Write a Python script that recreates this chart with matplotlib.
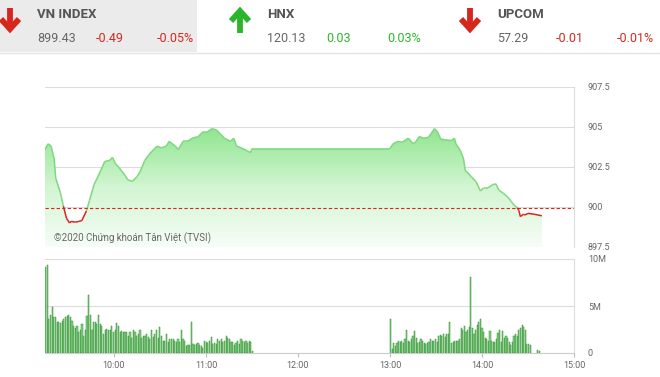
import numpy as np
import matplotlib
matplotlib.use("Agg")
import matplotlib.pyplot as plt
from matplotlib.collections import LineCollection
from matplotlib.colors import LinearSegmentedColormap
from matplotlib.patches import Rectangle

plt.rcParams['font.family'] = ['Roboto', 'DejaVu Sans']

# --- header quotes
idx_names = ["VN INDEX", "HNX", "UPCOM"]
idx_values = ["899.43", "120.13", "57.29"]
idx_changes = ["-0.49", "0.03", "-0.01"]
idx_pcts = ["-0.05%", "0.03%", "-0.01%"]

# --- intraday VN-Index (time, points)
price_times = ["09:15", "09:17", "09:19", "09:21", "09:22", "09:25", "09:27", "09:29",
               "09:31", "09:32", "09:35", "09:37", "09:39", "09:42", "09:44", "09:47",
               "09:50", "09:54", "09:57", "09:59", "10:01", "10:03", "10:07", "10:09",
               "10:12", "10:15", "10:17", "10:20", "10:23", "10:28", "10:31", "10:34",
               "10:36", "10:40", "10:42", "10:45", "10:48", "10:51", "10:55", "10:58",
               "11:01", "11:04", "11:07", "11:09", "11:12", "11:16", "11:18", "11:20",
               "11:23", "11:27", "11:29", "11:30", "13:00", "13:02", "13:05", "13:08",
               "13:12", "13:15", "13:17", "13:19", "13:22", "13:25", "13:28", "13:29",
               "13:31", "13:33", "13:36", "13:40", "13:42", "13:43", "13:46", "13:48",
               "13:49", "13:53", "13:56", "13:59", "14:01", "14:04", "14:07", "14:09",
               "14:11", "14:14", "14:17", "14:19", "14:21", "14:23", "14:24", "14:25",
               "14:27", "14:28", "14:30", "14:34", "14:39"]
price_values = [903.6, 903.95, 903.8, 903.0, 901.8, 900.9, 900.05, 899.3,
                899.0, 899.1, 899.05, 899.1, 899.15, 899.75, 900.4, 901.4,
                902.0, 902.85, 902.9, 903.1, 902.7, 902.5, 902.0, 901.7,
                901.6, 901.9, 902.2, 902.9, 903.3, 903.8, 903.7, 903.8,
                904.1, 903.8, 903.6, 904.1, 904.1, 904.3, 904.4, 904.7,
                904.7, 904.9, 904.8, 904.6, 904.3, 904.1, 904.3, 903.8,
                903.7, 903.5, 903.4, 903.65, 903.65, 903.95, 904.1, 904.05,
                904.3, 903.95, 904.1, 904.4, 904.3, 904.35, 904.75, 904.9,
                904.7, 904.25, 904.2, 904.15, 904.3, 903.95, 903.5, 903.0,
                902.3, 901.9, 901.6, 901.0, 901.2, 901.2, 901.4, 901.45,
                901.05, 900.85, 900.6, 900.35, 900.1, 899.95, 899.8, 899.4,
                899.55, 899.5, 899.6, 899.55, 899.45]
ref_price = 899.92

# --- volume (millions of shares), one bar per minute-ish
vol_am = [9.1, 9.4, 3.6, 4.0, 4.9, 3.8, 3.8, 3.3, 3.3, 3.2, 3.4, 3.6, 3.8, 3.9, 4.0, 3.8,
          3.4, 2.9, 2.7, 2.9, 2.2, 2.4, 3.1, 1.8, 2.5, 3.9, 6.2, 4.0, 2.4, 3.3, 3.3, 3.1,
          4.0, 3.1, 2.9, 2.0, 2.5, 2.6, 2.5, 2.4, 2.9, 2.2, 2.4, 3.2, 2.9, 2.2, 2.3, 2.2,
          2.2, 2.2, 1.8, 2.2, 1.6, 2.4, 2.2, 1.8, 2.0, 2.4, 1.6, 1.8, 1.8, 2.0, 1.7, 1.5,
          2.4, 1.7, 2.0, 2.4, 1.6, 2.8, 1.8, 1.3, 1.3, 2.0, 1.2, 1.5, 1.5, 1.5, 1.3, 1.2,
          1.5, 1.2, 2.4, 1.5, 1.3, 0.7, 0.8, 0.9, 3.3, 1.0, 0.8, 1.0, 1.1, 0.9, 0.7, 0.5,
          1.3, 1.2, 1.1, 1.3, 1.7, 1.0, 1.1, 1.0, 1.5, 1.3, 1.5, 1.2, 1.3, 1.8, 1.6, 1.5,
          1.2, 1.2, 0.9, 1.1, 1.3, 1.0, 1.5, 1.3, 1.2, 1.3, 1.1, 1.3, 1.2, 0.25]
vol_pm = [3.6, 0.4, 1.1, 0.7, 1.1, 1.3, 1.2, 1.3, 1.1, 1.5, 2.4, 1.3, 1.2, 1.5, 1.8, 2.3,
          1.6, 1.1, 1.2, 1.5, 1.3, 1.1, 1.0, 1.1, 1.2, 1.5, 1.3, 1.3, 1.5, 1.2, 1.8, 1.9,
          1.8, 2.0, 1.7, 2.0, 2.0, 3.3, 1.1, 1.2, 1.3, 1.3, 1.3, 1.5, 2.7, 2.5, 2.9, 2.2,
          2.4, 2.8, 8.1, 2.7, 2.0, 2.4, 3.0, 3.3, 3.6, 2.7, 2.2, 1.6, 1.5, 1.3, 2.3, 1.3,
          1.2, 1.2, 1.5, 2.1, 2.4, 1.2, 2.3, 1.6, 1.8, 1.6, 1.2, 0.9, 1.2, 1.8, 2.0, 1.8,
          2.4, 2.7, 3.0, 2.8, 2.5, 1.0, 1.0, 0.9]
vol_late_times = ["14:36", "14:37"]
vol_late = [0.36, 0.25]

x_ticks = ["10:00", "11:00", "12:00", "13:00", "14:00", "15:00"]


def hours(s):
    h, m = s.split(":")
    return int(h) + int(m) / 60.0


t = np.array([hours(s) for s in price_times])
p = np.array(price_values)

W, H = 660, 377
fig = plt.figure(figsize=(W / 100, H / 100), dpi=100, facecolor='white')

grey_txt = '#666666'
grid_c = '#dcdcdc'
green_line = '#7fd87f'
red = '#d7261e'
up_green = '#2bb52b'

# ---------------- header
hx = fig.add_axes([0, 1 - 58 / H, 1, 58 / H])
hx.set_xlim(0, W)
hx.set_ylim(58, 0)
hx.axis('off')
hx.add_patch(Rectangle((0, 0), 197, 52, color='#ebebeb', lw=0))
hx.plot([0, W], [52.5, 52.5], color='#e4e4e4', lw=1)
starts = [37, 267, 497]
for i, x0 in enumerate(starts):
    down = idx_changes[i].startswith('-')
    chg_col = red if down else up_green
    hx.text(x0, 14, idx_names[i], fontsize=9.5, fontweight='bold', color='#555555',
            va='center', ha='left')
    hx.text(x0, 38, idx_values[i], fontsize=9, color=grey_txt, va='center', ha='left')
    hx.text(x0 + 59, 38, idx_changes[i], fontsize=9, color=chg_col, va='center', ha='left')
    hx.text(x0 + 120, 38, idx_pcts[i], fontsize=9, color=chg_col, va='center', ha='left')
    # material-style arrow: shaft + chevron head
    cx = x0 - 27
    if down:
        tip, tail, arm = 29, 8, 19
    else:
        tip, tail, arm = 11, 33, 21
    hx.plot([cx, cx], [tail, tip], color=chg_col, lw=4.2, solid_capstyle='butt')
    hx.plot([cx - 9, cx, cx + 9], [arm, tip, arm], color=chg_col, lw=4.2,
            solid_joinstyle='miter', solid_capstyle='butt')

# ---------------- price panel
ax = fig.add_axes([45 / W, 1 - 247 / H, (574 - 45) / W, 160 / H])
ylo, yhi = 897.5, 907.5
poly = ax.fill_between(t, p, ylo, color='none', lw=0)
cmap = LinearSegmentedColormap.from_list('g', ['#f7fdf7', '#d2f5d2', '#8fe58f'])
grad = np.linspace(0, 1, 256).reshape(-1, 1)
img = ax.imshow(grad, extent=[t.min(), t.max(), ylo, 905.0], origin='lower',
                aspect='auto', cmap=cmap, zorder=1)
img.set_clip_path(poly.get_paths()[0], transform=ax.transData)

pts = np.column_stack([t, p]).reshape(-1, 1, 2)
segs = np.concatenate([pts[:-1], pts[1:]], axis=1)
mid = (p[:-1] + p[1:]) / 2
cols = [red if m < ref_price else green_line for m in mid]
ax.add_collection(LineCollection(segs, colors=cols, linewidths=1.1, zorder=3))
ax.axhline(ref_price, color=red, lw=0.8, ls=(0, (3, 2)), zorder=4)

ax.set_xlim(hours("09:15"), 15.0)
ax.set_ylim(ylo, yhi)
ax.set_yticks([897.5, 900, 902.5, 905, 907.5])
ax.set_yticklabels(["897.5", "900", "902.5", "905", "907.5"])
ax.yaxis.tick_right()
ax.tick_params(axis='y', length=0, labelsize=6.5, labelcolor=grey_txt, pad=10)
ax.set_xticks([])
ax.grid(axis='y', color=grid_c, lw=0.8)
ax.set_axisbelow(True)
for s in ['top', 'left', 'bottom']:
    ax.spines[s].set_visible(False)
ax.spines['right'].set_color(grid_c)
ax.text(hours("09:21"), 897.85, "©2020 Chứng khoán Tân Việt (TVSI)", fontsize=7,
        color=grey_txt, zorder=5)

# ---------------- volume panel
bx = fig.add_axes([45 / W, 1 - 353 / H, (574 - 45) / W, 94 / H])
t_am = np.linspace(hours("09:15"), hours("11:30"), len(vol_am))
t_pm = np.linspace(hours("13:00"), hours("14:31"), len(vol_pm))
t_late = np.array([hours(s) for s in vol_late_times])
bw = 0.75 / 60
for tt, vv in [(t_am, vol_am), (t_pm, vol_pm), (t_late, vol_late)]:
    bx.bar(tt, vv, width=bw, color='#8bd08b', edgecolor='#2f922f', linewidth=0.35,
           align='edge', zorder=2)
bx.set_xlim(hours("09:15"), 15.0)
bx.set_ylim(0, 10)
bx.set_yticks([0, 5, 10])
bx.set_yticklabels(["0", "5M", "10M"])
bx.yaxis.tick_right()
bx.tick_params(axis='y', length=0, labelsize=6.5, labelcolor=grey_txt, pad=10)
bx.set_xticks([hours(s) for s in x_ticks])
bx.set_xticklabels(x_ticks)
bx.tick_params(axis='x', length=3, color='#bbbbbb', labelsize=6.5, labelcolor=grey_txt, pad=3)
bx.grid(axis='y', color=grid_c, lw=0.8)
bx.set_axisbelow(True)
for s in ['top', 'left']:
    bx.spines[s].set_visible(False)
bx.spines['right'].set_color(grid_c)
bx.spines['bottom'].set_color('#cccccc')

fig.savefig("out.png", dpi=100, facecolor='white')
